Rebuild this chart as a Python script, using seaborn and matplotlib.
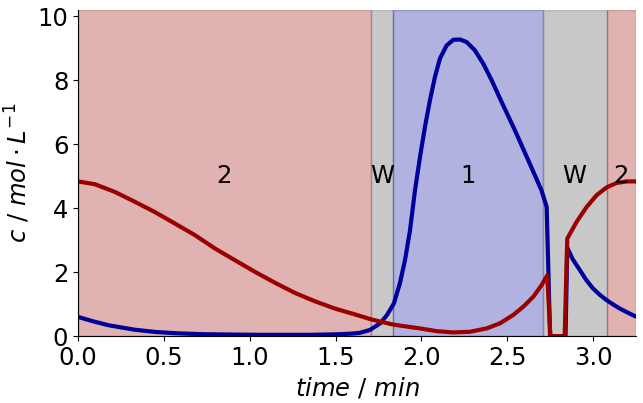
import numpy as np
import matplotlib
matplotlib.use("Agg")
import matplotlib.pyplot as plt
import seaborn as sns

# component 1 (blue) concentration
t_blue = [0.00, 0.09, 0.177, 0.33, 0.45, 0.57, 0.72, 0.87, 1.05, 1.20, 1.35, 1.45,
          1.53, 1.60, 1.64, 1.70, 1.76, 1.80, 1.84, 1.875, 1.905, 1.934, 1.963,
          1.992, 2.021, 2.05, 2.079, 2.108, 2.147, 2.186, 2.225, 2.264, 2.312,
          2.361, 2.41, 2.468, 2.545, 2.623, 2.70, 2.73, 2.75, 2.84, 2.85, 2.88,
          2.924, 2.96, 3.00, 3.04, 3.079, 3.12, 3.157, 3.20, 3.25]
c_blue = [0.60, 0.46, 0.34, 0.20, 0.13, 0.09, 0.06, 0.05, 0.04, 0.04, 0.04, 0.05,
          0.06, 0.08, 0.10, 0.19, 0.40, 0.66, 1.02, 1.65, 2.38, 3.31, 4.56,
          5.60, 6.54, 7.375, 8.10, 8.68, 9.09, 9.27, 9.28, 9.20, 8.94,
          8.52, 8.00, 7.32, 6.44, 5.50, 4.56, 4.04, 0.0, 0.0, 2.77, 2.42,
          2.06, 1.76, 1.49, 1.29, 1.125, 0.98, 0.86, 0.74, 0.61]

# component 2 (red) concentration
t_red = [0.00, 0.099, 0.215, 0.332, 0.448, 0.565, 0.681, 0.798, 0.914, 1.031,
         1.147, 1.264, 1.38, 1.497, 1.613, 1.71, 1.836, 1.992, 2.09, 2.186,
         2.283, 2.38, 2.458, 2.535, 2.594, 2.652, 2.70, 2.733, 2.752, 2.835,
         2.85, 2.904, 2.963, 3.021, 3.079, 3.137, 3.196, 3.25]
c_red = [4.84, 4.75, 4.51, 4.20, 3.88, 3.52, 3.16, 2.74, 2.375, 2.01,
         1.67, 1.35, 1.09, 0.86, 0.68, 0.52, 0.36, 0.24, 0.155, 0.115,
         0.135, 0.24, 0.40, 0.66, 0.92, 1.23, 1.59, 1.90, 0.0, 0.0,
         3.05, 3.57, 4.04, 4.41, 4.65, 4.79, 4.84, 4.84]

# switching zones
zone_edges = [0.0, 1.705, 1.836, 2.706, 3.079, 3.25]
zone_labels = ["2", "W", "1", "W", "2"]

zone_colors = {"2": ((0.6, 0, 0), 0.3), "1": ((0, 0, 0.6), 0.3), "W": ("grey", 0.43)}

sns.set_style("ticks", {"text.color": "black", "axes.labelcolor": "black",
                        "xtick.color": "black", "ytick.color": "black",
                        "axes.edgecolor": "black"})
plt.rcParams["font.family"] = ["DejaVu Sans"]

fs = 17.5
fig, ax = plt.subplots(figsize=(6.43, 4.03), dpi=100)
fig.subplots_adjust(left=0.1213, right=0.989, bottom=0.166, top=0.975)

for i, lab in enumerate(zone_labels):
    x0, x1 = zone_edges[i], zone_edges[i + 1]
    col, a = zone_colors[lab]
    ax.axvspan(x0, x1, color=col, alpha=a, lw=1)
    ax.text((x0 + x1) / 2, 5, lab, ha="center", va="center", fontsize=fs, color="black")

sns.lineplot(x=t_blue, y=c_blue, color="#00009a", lw=3, ax=ax)
sns.lineplot(x=t_red, y=c_red, color="#9a0000", lw=3, ax=ax)

ax.set_xlim(0, 3.25)
ax.set_ylim(0, 10.2)
ax.set_xticks(np.arange(0, 3.01, 0.5))
ax.set_yticks(np.arange(0, 10.1, 2))
ax.tick_params(labelsize=fs)
ax.set_xlabel(r"$time\ /\ min$", fontsize=fs)
ax.set_ylabel(r"$c\ /\ mol \cdot L^{-1}$", fontsize=fs)
sns.despine(ax=ax)

fig.savefig("out.png", dpi=100)
